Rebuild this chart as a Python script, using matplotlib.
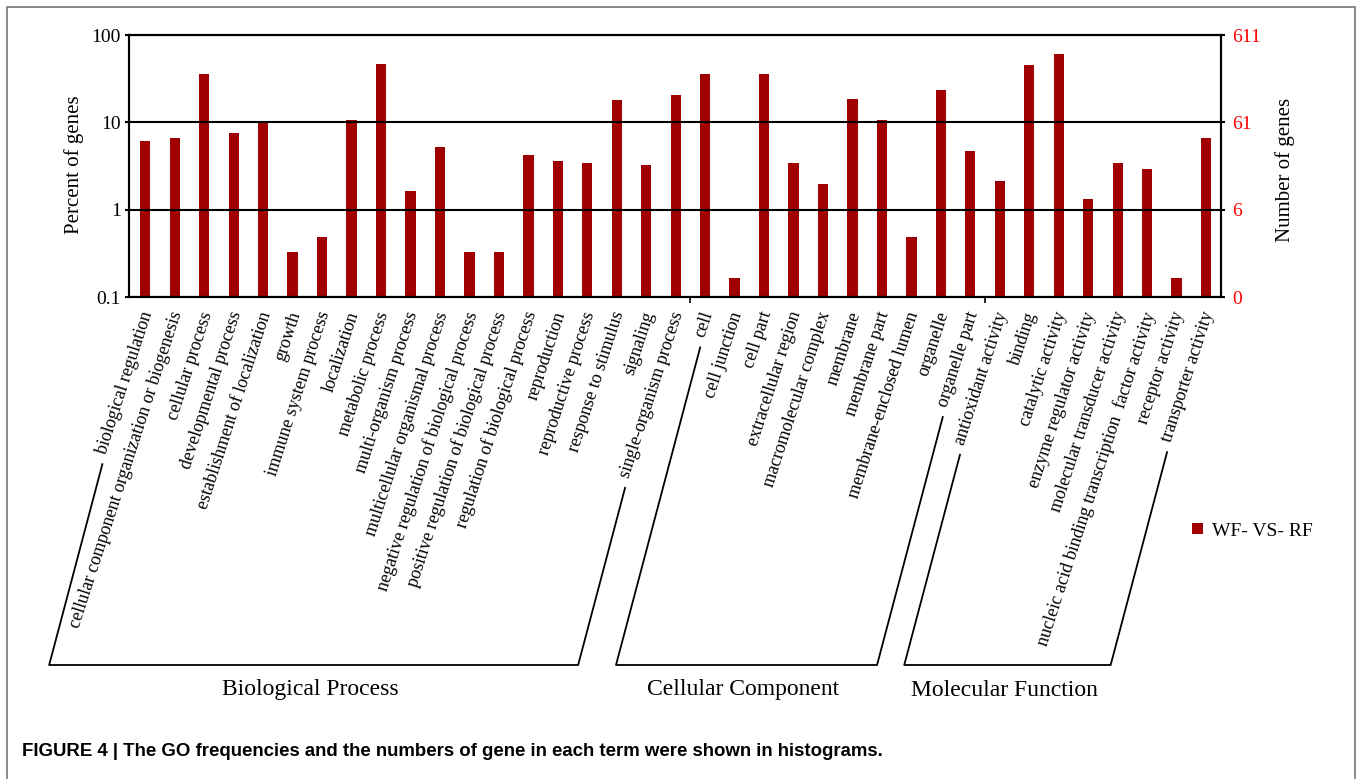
import numpy as np
import matplotlib
matplotlib.use("Agg")
import matplotlib.pyplot as plt
import matplotlib.transforms as mtransforms
from matplotlib import font_manager
from matplotlib.lines import Line2D
from matplotlib.ticker import FixedLocator, FixedFormatter, NullLocator

# ---- data -------------------------------------------------------------
bp_terms = [
    "biological regulation",
    "cellular component organization or biogenesis",
    "cellular process",
    "developmental process",
    "establishment of localization",
    "growth",
    "immune system process",
    "localization",
    "metabolic process",
    "multi-organism process",
    "multicellular organismal process",
    "negative regulation of biological process",
    "positive regulation of biological process",
    "regulation of biological process",
    "reproduction",
    "reproductive process",
    "response to stimulus",
    "signaling",
    "single-organism process",
]
bp_pct = [6.07, 6.6, 35.4, 7.55, 10.0, 0.33, 0.49, 10.5, 46.5, 1.64,
          5.24, 0.33, 0.33, 4.26, 3.6, 3.44, 17.8, 3.27, 20.3]

cc_terms = [
    "cell",
    "cell junction",
    "cell part",
    "extracellular region",
    "macromolecular complex",
    "membrane",
    "membrane part",
    "membrane-enclosed lumen",
    "organelle",
    "organelle part",
]
cc_pct = [35.4, 0.164, 35.4, 3.44, 1.96, 18.3, 10.5, 0.49, 23.2, 4.7]

mf_terms = [
    "antioxidant activity",
    "binding",
    "catalytic activity",
    "enzyme regulator activity",
    "molecular transducer activity",
    "nucleic acid binding transcription  factor activity",
    "receptor activity",
    "transporter activity",
]
mf_pct = [2.13, 45.0, 61.0, 1.31, 3.44, 2.95, 0.164, 6.7]

group_names = ["Biological Process", "Cellular Component", "Molecular Function"]
left_ticks = [0.1, 1, 10, 100]
left_tick_labels = ["0.1", "1", "10", "100"]
right_tick_labels = ["0", "6", "61", "611"]
series_name = "WF- VS- RF"
caption = ("FIGURE 4 | The GO frequencies and the numbers of gene in each "
           "term were shown in histograms.")

# ---- figure -----------------------------------------------------------
plt.rcParams["font.family"] = ["Liberation Serif", "DejaVu Serif"]
W, H = 1360, 779
fig = plt.figure(figsize=(W / 100, H / 100), dpi=100)
fig.patch.set_facecolor("white")

ax_left, ax_right, ax_top, ax_bottom = 128.5, 1220.5, 35, 297
ax = fig.add_axes([ax_left / W, 1 - ax_bottom / H,
                   (ax_right - ax_left) / W, (ax_bottom - ax_top) / H])

terms = bp_terms + cc_terms + mf_terms
pct = bp_pct + cc_pct + mf_pct
group_sizes = [len(bp_terms), len(cc_terms), len(mf_terms)]
x = np.arange(len(terms))

bar_color = "#A00000"
ax.set_yscale("log")
bars = ax.bar(x, pct, width=0.35, color=bar_color, zorder=1)
ax.set_ylim(0.1, 100)
ax.set_xlim(-0.57, len(terms) - 0.51)
ax.set_axisbelow(False)

lw = 1.5
ax.yaxis.set_major_locator(FixedLocator(left_ticks))
ax.yaxis.set_major_formatter(FixedFormatter(left_tick_labels))
ax.yaxis.set_minor_locator(NullLocator())
ax.yaxis.grid(True, color="black", linewidth=lw)
ax.tick_params(axis="y", direction="out", length=3, width=lw,
               labelsize=14, pad=2.5, colors="black")

# group separators on the category axis
bounds = np.cumsum(group_sizes)[:-1] - 0.5
ax.set_xticks(bounds)
ax.set_xticklabels([])
ax.tick_params(axis="x", direction="out", length=4, width=1.2)

for sp in ax.spines.values():
    sp.set_linewidth(lw)
    sp.set_color("black")

ax2 = ax.twinx()
ax2.set_yscale("log")
ax2.set_ylim(0.1, 100)
ax2.yaxis.set_major_locator(FixedLocator(left_ticks))
ax2.yaxis.set_major_formatter(FixedFormatter(right_tick_labels))
ax2.yaxis.set_minor_locator(NullLocator())
ax2.tick_params(axis="y", direction="out", length=3, width=lw,
                labelsize=14, pad=5.5, labelcolor="#FF0000", color="black")
for sp in ax2.spines.values():
    sp.set_linewidth(lw)
    sp.set_color("black")

# axis titles
fig.text(74 / W, 1 - 165 / H, "Percent of genes", rotation=90,
         ha="center", va="center", fontsize=15)
fig.text(1285 / W, 1 - 170 / H, "Number of genes", rotation=90,
         ha="center", va="center", fontsize=15)

# slanted category labels
rot = 72
base = mtransforms.blended_transform_factory(ax.transData, ax.transAxes)
lab_tr = mtransforms.offset_copy(base, fig=fig, x=3, y=-15, units="dots")
labels = []
for xi, term in zip(x, terms):
    t = ax.text(xi, 0, term, transform=lab_tr, rotation=rot,
                rotation_mode="anchor", ha="right", va="center",
                fontsize=13)
    labels.append(t)

fig.canvas.draw()
renderer = fig.canvas.get_renderer()

c, s = np.cos(np.radians(rot)), np.sin(np.radians(rot))


def lowest_point(text):
    bb = text.get_window_extent(renderer)
    det = c * c - s * s
    h = (bb.height * c - bb.width * s) / det
    return bb.x0 + h * s, bb.y0


# group brackets drawn beneath the labels
slope = 0.265
y_floor = H - 665
bracket_lw = 1.3
starts = np.concatenate([[0], np.cumsum(group_sizes)[:-1]])
for name, st, n in zip(group_names, starts, group_sizes):
    pts = []
    for idx in (st, st + n - 1):
        lx, ly = lowest_point(labels[idx])
        tx, ty = lx - 8, ly - 8
        bx = tx - (ty - y_floor) * slope
        pts.append(((tx, ty), (bx, y_floor)))
    (t1, b1), (t2, b2) = pts
    xs = [t1[0], b1[0], b2[0], t2[0]]
    ys = [t1[1], b1[1], b2[1], t2[1]]
    fig.add_artist(Line2D(np.array(xs) / W, np.array(ys) / H,
                          transform=fig.transFigure, color="black",
                          linewidth=bracket_lw))
    fig.text((b1[0] + b2[0]) / 2 / W - 3 / W, (H - 690) / H, name,
             ha="center", va="center", fontsize=17)

# legend
fig.legend(handles=[bars], labels=[series_name], loc="center left",
           bbox_to_anchor=(1192 / W, 1 - 531 / H), frameon=False,
           fontsize=14, handlelength=0.55, handleheight=0.55,
           handletextpad=0.5, borderaxespad=0, borderpad=0)

# caption in a bold sans face, fitted to its line length
avail = {f.name for f in font_manager.fontManager.ttflist}
cap_family = "Liberation Sans Narrow" if "Liberation Sans Narrow" in avail \
    else "Liberation Sans"
cap = fig.text(22 / W, 1 - 752 / H, caption, ha="left", va="center",
               fontsize=12, fontweight="bold", family=cap_family)
fig.canvas.draw()
cw = cap.get_window_extent(renderer).width
cap.set_fontsize(12 * 863 / cw)

# frame around the figure
border = Line2D(np.array([7, 7, 1355, 1355]) / W,
                1 - np.array([779, 7, 7, 779]) / H,
                transform=fig.transFigure, color="#808080", linewidth=1.3)
fig.add_artist(border)

fig.savefig("out.png", dpi=100, facecolor="white")
